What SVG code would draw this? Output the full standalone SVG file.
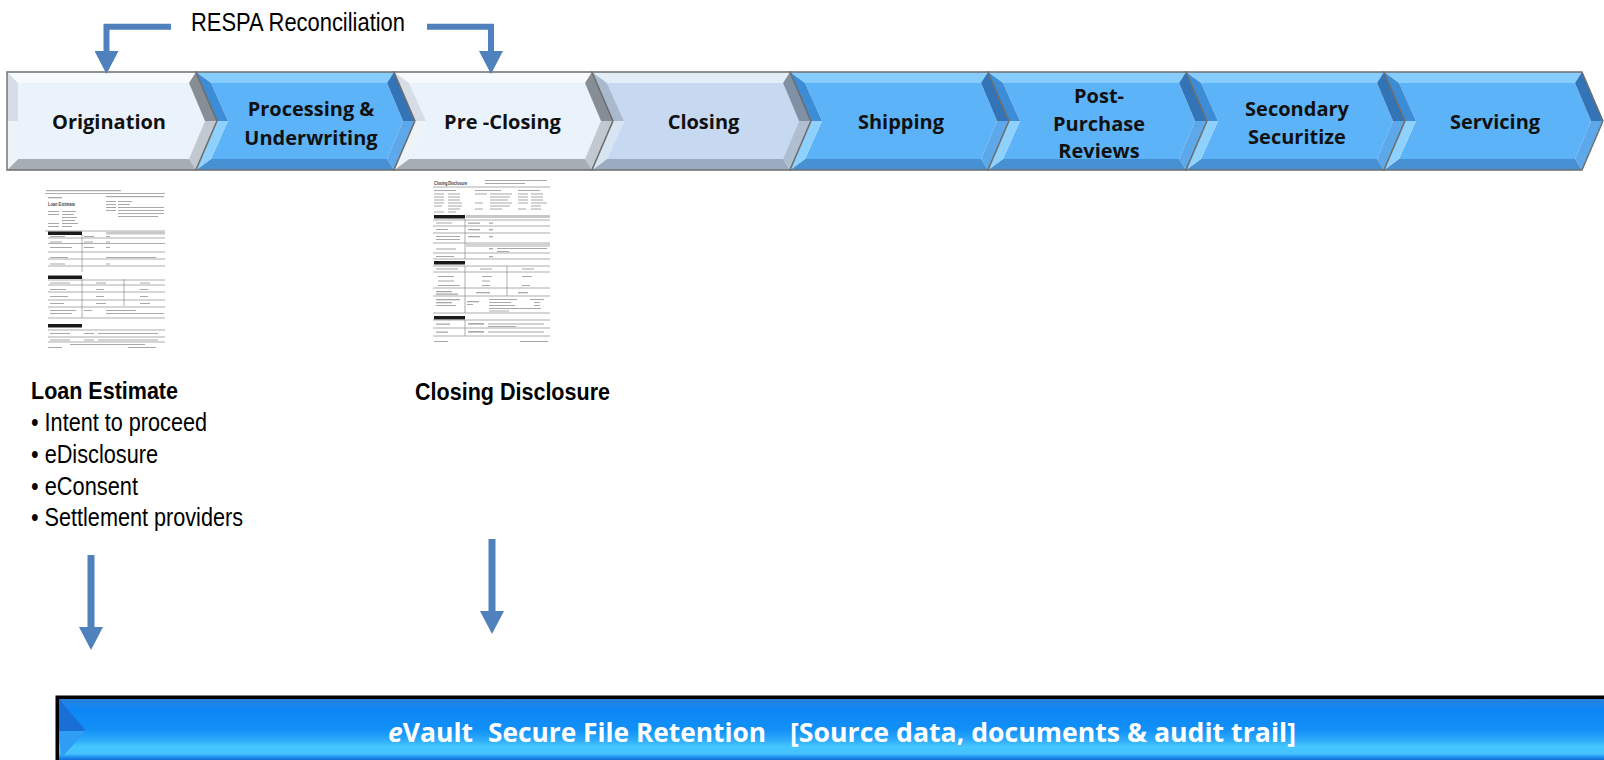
<svg xmlns="http://www.w3.org/2000/svg" width="1604" height="760" viewBox="0 0 1604 760">
<style>
.o{fill:none;stroke:#6e6e6e;stroke-width:1.4;stroke-linejoin:miter}
.lt .f{fill:#eaf3fc}.lt .t{fill:#f7fafd}.lt .lu{fill:#d6dde6}.lt .ll{fill:#eef3f8}.lt .ru{fill:#878d95}.lt .rl{fill:#c2c8cf}.lt .b{fill:#a6adb5}
.pl .f{fill:#c6d9f0}.pl .t{fill:#e3edf8}.pl .lu{fill:#a9bace}.pl .ll{fill:#d7e4f2}.pl .ru{fill:#8191a5}.pl .rl{fill:#afbed0}.pl .b{fill:#9bacc0}
.bl .f{fill:#5db3f8}.bl .t{fill:#86ccfd}.bl .lu{fill:#3d8dd6}.bl .ll{fill:#8fd1fd}.bl .ru{fill:#3374b6}.bl .rl{fill:#5ca8ea}.bl .b{fill:#4790d3}
.lbl{font-family:"Open Sans","Liberation Sans",sans-serif;font-weight:700;font-size:20px;fill:#111;text-anchor:middle}
.nar{font-family:"Liberation Sans Narrow","Liberation Sans",sans-serif;fill:#000}
.conn{fill:none;stroke:#4f81bd;stroke-width:6;stroke-linejoin:miter;marker-end:url(#ah)}
.bar{font-family:"Open Sans","Liberation Sans",sans-serif;font-weight:700;font-size:27px;fill:#fff}
.ru2{stroke:#8a8a8a;stroke-width:0.7}
.tx{fill:#a8a8a8}
.hb{fill:#1a1a1a}
</style>
<defs>
<marker id="ah" markerUnits="userSpaceOnUse" markerWidth="23" markerHeight="24" viewBox="0 0 23 24" refX="0" refY="12" orient="auto">
<path d="M0,0 L23,12 L0,24 Z" fill="#4f81bd"/>
</marker>
<linearGradient id="barg" x1="0" y1="699" x2="0" y2="760" gradientUnits="userSpaceOnUse">
<stop offset="0" stop-color="#2b7fd6"/>
<stop offset="0.1" stop-color="#1b85ec"/>
<stop offset="0.17" stop-color="#0d86f6"/>
<stop offset="0.5" stop-color="#1190f7"/>
<stop offset="0.68" stop-color="#2eacfb"/>
<stop offset="0.78" stop-color="#46c6ff"/>
<stop offset="0.9" stop-color="#45c2ff"/>
<stop offset="0.95" stop-color="#1e8ff0"/>
<stop offset="1" stop-color="#126fd6"/>
</linearGradient>
</defs>
<rect x="0" y="0" width="1604" height="760" fill="#fff"/>

<!-- Stage chevrons -->
<g id="node-origination" class="lt">
<polygon class="f" points="18,83 189,83 205,121 189,159 18,159"/>
<polygon class="t" points="7,72 196,72 189,83 18,83"/>
<polygon class="ru" points="196,72 217,121 205,121 189,83"/>
<polygon class="rl" points="217,121 196,170 189,159 205,121"/>
<polygon class="b" points="7,170 196,170 189,159 18,159"/>
<polygon class="lu" points="7,72 18,83 18,121 7,121"/>
<polygon class="ll" points="7,121 18,121 18,159 7,170"/>
<polygon class="o" points="7,72 196,72 217,121 196,170 7,170"/>
<text class="lbl" x="109" y="129">Origination</text>
</g>

<g id="node-processing" class="bl" transform="translate(196,0)">
<polygon class="f" points="15,83 191,83 207,121 191,159 15,159 32,121"/>
<polygon class="t" points="0,72 198,72 191,83 15,83"/>
<polygon class="ru" points="198,72 219,121 207,121 191,83"/>
<polygon class="rl" points="219,121 198,170 191,159 207,121"/>
<polygon class="b" points="0,170 198,170 191,159 15,159"/>
<polygon class="lu" points="0,72 15,83 32,121 21,121"/>
<polygon class="ll" points="21,121 32,121 15,159 0,170"/>
<polygon class="o" points="0,72 198,72 219,121 198,170 0,170 21,121"/>
<text class="lbl" x="115" y="115.5">Processing &amp;</text>
<text class="lbl" x="115" y="144.5">Underwriting</text>
</g>

<g id="node-pre-closing" class="lt" transform="translate(394,0)">
<polygon class="f" points="15,83 191,83 207,121 191,159 15,159 32,121"/>
<polygon class="t" points="0,72 198,72 191,83 15,83"/>
<polygon class="ru" points="198,72 219,121 207,121 191,83"/>
<polygon class="rl" points="219,121 198,170 191,159 207,121"/>
<polygon class="b" points="0,170 198,170 191,159 15,159"/>
<polygon class="lu" points="0,72 15,83 32,121 21,121"/>
<polygon class="ll" points="21,121 32,121 15,159 0,170"/>
<polygon class="o" points="0,72 198,72 219,121 198,170 0,170 21,121"/>
<text class="lbl" x="108.5" y="129">Pre -Closing</text>
</g>

<g id="node-closing" class="pl" transform="translate(592,0)">
<polygon class="f" points="15,83 191,83 207,121 191,159 15,159 32,121"/>
<polygon class="t" points="0,72 198,72 191,83 15,83"/>
<polygon class="ru" points="198,72 219,121 207,121 191,83"/>
<polygon class="rl" points="219,121 198,170 191,159 207,121"/>
<polygon class="b" points="0,170 198,170 191,159 15,159"/>
<polygon class="lu" points="0,72 15,83 32,121 21,121"/>
<polygon class="ll" points="21,121 32,121 15,159 0,170"/>
<polygon class="o" points="0,72 198,72 219,121 198,170 0,170 21,121"/>
<text class="lbl" x="111.5" y="129">Closing</text>
</g>

<g id="node-shipping" class="bl" transform="translate(790,0)">
<polygon class="f" points="15,83 191,83 207,121 191,159 15,159 32,121"/>
<polygon class="t" points="0,72 198,72 191,83 15,83"/>
<polygon class="ru" points="198,72 219,121 207,121 191,83"/>
<polygon class="rl" points="219,121 198,170 191,159 207,121"/>
<polygon class="b" points="0,170 198,170 191,159 15,159"/>
<polygon class="lu" points="0,72 15,83 32,121 21,121"/>
<polygon class="ll" points="21,121 32,121 15,159 0,170"/>
<polygon class="o" points="0,72 198,72 219,121 198,170 0,170 21,121"/>
<text class="lbl" x="111" y="129">Shipping</text>
</g>

<g id="node-post-purchase" class="bl" transform="translate(988,0)">
<polygon class="f" points="15,83 191,83 207,121 191,159 15,159 32,121"/>
<polygon class="t" points="0,72 198,72 191,83 15,83"/>
<polygon class="ru" points="198,72 219,121 207,121 191,83"/>
<polygon class="rl" points="219,121 198,170 191,159 207,121"/>
<polygon class="b" points="0,170 198,170 191,159 15,159"/>
<polygon class="lu" points="0,72 15,83 32,121 21,121"/>
<polygon class="ll" points="21,121 32,121 15,159 0,170"/>
<polygon class="o" points="0,72 198,72 219,121 198,170 0,170 21,121"/>
<text class="lbl" x="111" y="103">Post-</text>
<text class="lbl" x="111" y="130.5">Purchase</text>
<text class="lbl" x="111" y="158">Reviews</text>
</g>

<g id="node-secondary" class="bl" transform="translate(1186,0)">
<polygon class="f" points="15,83 191,83 207,121 191,159 15,159 32,121"/>
<polygon class="t" points="0,72 198,72 191,83 15,83"/>
<polygon class="ru" points="198,72 219,121 207,121 191,83"/>
<polygon class="rl" points="219,121 198,170 191,159 207,121"/>
<polygon class="b" points="0,170 198,170 191,159 15,159"/>
<polygon class="lu" points="0,72 15,83 32,121 21,121"/>
<polygon class="ll" points="21,121 32,121 15,159 0,170"/>
<polygon class="o" points="0,72 198,72 219,121 198,170 0,170 21,121"/>
<text class="lbl" x="111" y="115.5">Secondary</text>
<text class="lbl" x="111" y="144">Securitize</text>
</g>

<g id="node-servicing" class="bl" transform="translate(1384,0)">
<polygon class="f" points="15,83 191,83 207,121 191,159 15,159 32,121"/>
<polygon class="t" points="0,72 198,72 191,83 15,83"/>
<polygon class="ru" points="198,72 219,121 207,121 191,83"/>
<polygon class="rl" points="219,121 198,170 191,159 207,121"/>
<polygon class="b" points="0,170 198,170 191,159 15,159"/>
<polygon class="lu" points="0,72 15,83 32,121 21,121"/>
<polygon class="ll" points="21,121 32,121 15,159 0,170"/>
<polygon class="o" points="0,72 198,72 219,121 198,170 0,170 21,121"/>
<text class="lbl" x="111" y="129">Servicing</text>
</g>

<!-- RESPA label -->
<g id="label-respa">
<text class="nar" x="191" y="30.7" font-size="26" textLength="214" lengthAdjust="spacingAndGlyphs">RESPA Reconciliation</text>
</g>

<!-- Loan Estimate document -->
<g id="doc-loan-estimate">
<rect class="tx" x="46" y="190" width="75" height="1.2"/>
<line class="ru2" x1="45" y1="193.5" x2="165" y2="193.5"/>
<rect class="tx" x="48" y="197" width="14" height="1.3"/>
<text x="48" y="206" font-family="Liberation Sans, sans-serif" font-weight="700" font-size="5.5" fill="#444" textLength="27" lengthAdjust="spacingAndGlyphs">Loan Estimate</text>
<rect class="tx" x="106" y="196" width="58" height="1.2"/>
<rect class="tx" x="48" y="211" width="11" height="1"/><rect class="tx" x="62" y="211" width="14" height="1"/>
<rect class="tx" x="48" y="214" width="11" height="1"/><rect class="tx" x="62" y="214" width="12" height="1"/>
<rect class="tx" x="62" y="217" width="15" height="1"/><rect class="tx" x="62" y="220" width="13" height="1"/>
<rect class="tx" x="48" y="223" width="11" height="1"/><rect class="tx" x="62" y="223" width="16" height="1"/>
<rect class="tx" x="48" y="226" width="11" height="1"/><rect class="tx" x="62" y="226" width="10" height="1"/>
<rect class="tx" x="106" y="201" width="10" height="1"/><rect class="tx" x="118" y="201" width="14" height="1"/>
<rect class="tx" x="106" y="204" width="10" height="1"/><rect class="tx" x="118" y="204" width="12" height="1"/>
<rect class="tx" x="106" y="207" width="10" height="1"/><rect class="tx" x="118" y="207" width="46" height="1"/>
<rect class="tx" x="106" y="210" width="10" height="1"/><rect class="tx" x="118" y="210" width="46" height="1"/>
<rect class="tx" x="118" y="213" width="46" height="1"/><rect class="tx" x="118" y="216" width="40" height="1"/>
<line class="ru2" x1="45" y1="231" x2="165" y2="231"/>
<rect class="hb" x="48" y="231.5" width="34" height="3.5"/>
<rect x="106" y="231.5" width="59" height="3" fill="#c8c8c8"/>
<line class="ru2" x1="48" y1="238" x2="165" y2="238"/>
<line class="ru2" x1="48" y1="243.5" x2="165" y2="243.5"/>
<line class="ru2" x1="48" y1="252" x2="165" y2="252"/>
<line class="ru2" x1="48" y1="259" x2="165" y2="259"/>
<line class="ru2" x1="48" y1="266" x2="165" y2="266"/>
<line class="ru2" x1="82" y1="235" x2="82" y2="272"/>
<rect class="tx" x="50" y="236" width="15" height="1"/><rect class="tx" x="84" y="236" width="10" height="1"/><rect class="tx" x="106" y="236" width="4" height="1"/>
<rect class="tx" x="50" y="241.5" width="12" height="1"/><rect class="tx" x="84" y="241.5" width="9" height="1"/><rect class="tx" x="106" y="241.5" width="4" height="1"/>
<rect class="tx" x="50" y="247" width="22" height="1"/><rect class="tx" x="84" y="247" width="10" height="1"/><rect class="tx" x="106" y="247" width="4" height="1"/>
<rect class="tx" x="50" y="257" width="18" height="1"/><rect class="tx" x="106" y="257" width="50" height="1"/>
<rect class="tx" x="50" y="263.5" width="15" height="1"/><rect class="tx" x="106" y="263.5" width="4" height="1"/>
<rect class="hb" x="48" y="275.5" width="34" height="3.5"/>
<line class="ru2" x1="48" y1="280" x2="165" y2="280"/>
<line class="ru2" x1="48" y1="285" x2="165" y2="285"/>
<line class="ru2" x1="48" y1="292" x2="165" y2="292"/>
<line class="ru2" x1="48" y1="300" x2="165" y2="300"/>
<line class="ru2" x1="48" y1="307" x2="165" y2="307"/>
<line class="ru2" x1="48" y1="318" x2="165" y2="318"/>
<line class="ru2" x1="82" y1="279" x2="82" y2="318"/>
<line class="ru2" x1="124" y1="279" x2="124" y2="306"/>
<rect class="tx" x="50" y="282.5" width="20" height="1"/><rect class="tx" x="96" y="282.5" width="10" height="1"/><rect class="tx" x="140" y="282.5" width="10" height="1"/>
<rect class="tx" x="50" y="289" width="16" height="1"/><rect class="tx" x="96" y="289" width="8" height="1"/><rect class="tx" x="140" y="289" width="8" height="1"/>
<rect class="tx" x="50" y="296" width="18" height="1"/><rect class="tx" x="96" y="296" width="8" height="1"/><rect class="tx" x="140" y="296" width="8" height="1"/>
<rect class="tx" x="50" y="303" width="14" height="1"/><rect class="tx" x="96" y="303" width="10" height="1"/><rect class="tx" x="140" y="303" width="10" height="1"/>
<rect class="tx" x="50" y="310" width="26" height="1"/><rect class="tx" x="84" y="310" width="8" height="1"/><rect class="tx" x="106" y="310" width="30" height="1"/>
<rect class="tx" x="50" y="313" width="22" height="1"/><rect class="tx" x="106" y="313" width="58" height="1"/>
<rect class="hb" x="48" y="324" width="34" height="3.5"/>
<line class="ru2" x1="48" y1="330" x2="165" y2="330"/>
<line class="ru2" x1="48" y1="337" x2="165" y2="337"/>
<line class="ru2" x1="48" y1="342" x2="165" y2="342"/>
<rect class="tx" x="50" y="333" width="20" height="1"/><rect class="tx" x="84" y="333" width="10" height="1"/><rect class="tx" x="98" y="333" width="60" height="1"/>
<rect class="tx" x="50" y="339.5" width="20" height="1"/><rect class="tx" x="84" y="339.5" width="10" height="1"/><rect class="tx" x="98" y="339.5" width="60" height="1"/>
<rect class="tx" x="70" y="344" width="75" height="1"/>
<rect class="tx" x="48" y="347" width="14" height="1"/><rect class="tx" x="128" y="347" width="28" height="1"/>
</g>

<!-- Closing Disclosure document -->
<g id="doc-closing-disclosure">
<text x="434" y="184.5" font-family="Liberation Sans, sans-serif" font-weight="700" font-size="5.5" fill="#333" textLength="33" lengthAdjust="spacingAndGlyphs">Closing Disclosure</text>
<rect class="tx" x="485" y="180" width="62" height="1"/><rect class="tx" x="485" y="183" width="40" height="1"/>
<line class="ru2" x1="433" y1="187" x2="550" y2="187"/>
<rect class="tx" x="434" y="190" width="22" height="1"/><rect class="tx" x="475" y="190" width="26" height="1"/><rect class="tx" x="518" y="190" width="22" height="1"/>
<rect class="tx" x="434" y="193.5" width="10" height="1"/><rect class="tx" x="448" y="193.5" width="12" height="1"/><rect class="tx" x="475" y="193.5" width="12" height="1"/><rect class="tx" x="490" y="193.5" width="22" height="1"/><rect class="tx" x="518" y="193.5" width="10" height="1"/><rect class="tx" x="531" y="193.5" width="12" height="1"/>
<rect class="tx" x="434" y="196.5" width="10" height="1"/><rect class="tx" x="448" y="196.5" width="12" height="1"/><rect class="tx" x="490" y="196.5" width="20" height="1"/><rect class="tx" x="518" y="196.5" width="10" height="1"/><rect class="tx" x="531" y="196.5" width="12" height="1"/>
<rect class="tx" x="434" y="199.5" width="10" height="1"/><rect class="tx" x="448" y="199.5" width="12" height="1"/><rect class="tx" x="490" y="199.5" width="18" height="1"/><rect class="tx" x="518" y="199.5" width="10" height="1"/><rect class="tx" x="531" y="199.5" width="12" height="1"/>
<rect class="tx" x="434" y="202.5" width="10" height="1"/><rect class="tx" x="448" y="202.5" width="14" height="1"/><rect class="tx" x="475" y="202.5" width="8" height="1"/><rect class="tx" x="490" y="202.5" width="22" height="1"/><rect class="tx" x="518" y="202.5" width="10" height="1"/><rect class="tx" x="531" y="202.5" width="16" height="1"/>
<rect class="tx" x="434" y="205.5" width="8" height="1"/><rect class="tx" x="448" y="205.5" width="14" height="1"/><rect class="tx" x="490" y="205.5" width="20" height="1"/><rect class="tx" x="531" y="205.5" width="10" height="1"/>
<rect class="tx" x="448" y="208.5" width="12" height="1"/><rect class="tx" x="475" y="208.5" width="8" height="1"/><rect class="tx" x="490" y="208.5" width="12" height="1"/><rect class="tx" x="518" y="208.5" width="8" height="1"/><rect class="tx" x="531" y="208.5" width="10" height="1"/>
<rect class="tx" x="434" y="211.5" width="10" height="1"/><rect class="tx" x="448" y="211.5" width="8" height="1"/>
<rect class="hb" x="434" y="215" width="31" height="3.5"/>
<rect x="466" y="215" width="84" height="3" fill="#c8c8c8"/>
<line class="ru2" x1="433" y1="220" x2="550" y2="220"/>
<line class="ru2" x1="433" y1="226" x2="550" y2="226"/>
<line class="ru2" x1="433" y1="233" x2="550" y2="233"/>
<line class="ru2" x1="433" y1="243" x2="550" y2="243"/>
<line class="ru2" x1="466" y1="246" x2="550" y2="246"/>
<line class="ru2" x1="433" y1="253" x2="550" y2="253"/>
<line class="ru2" x1="433" y1="259" x2="550" y2="259"/>
<line class="ru2" x1="465" y1="219" x2="465" y2="259"/>
<rect class="tx" x="436" y="222.5" width="16" height="1"/><rect class="tx" x="468" y="222.5" width="12" height="1.3"/><rect class="tx" x="489" y="222.5" width="4" height="1.3"/>
<rect class="tx" x="436" y="229" width="12" height="1"/><rect class="tx" x="468" y="229" width="12" height="1.3"/><rect class="tx" x="489" y="229" width="4" height="1.3"/>
<rect class="tx" x="436" y="236" width="24" height="1"/><rect class="tx" x="436" y="239" width="24" height="1"/><rect class="tx" x="468" y="236" width="12" height="1.3"/><rect class="tx" x="489" y="236" width="4" height="1.3"/>
<rect x="466" y="243.5" width="84" height="2" fill="#d0d0d0"/>
<rect class="tx" x="436" y="248.5" width="20" height="1"/><rect class="tx" x="489" y="248" width="4" height="1.3"/><rect class="tx" x="497" y="248" width="50" height="1"/><rect class="tx" x="497" y="251" width="12" height="1"/>
<rect class="tx" x="436" y="256" width="18" height="1"/><rect class="tx" x="489" y="256" width="4" height="1.3"/>
<rect class="hb" x="434" y="261" width="31" height="3.5"/>
<line class="ru2" x1="433" y1="266" x2="550" y2="266"/>
<line class="ru2" x1="433" y1="272" x2="550" y2="272"/>
<line class="ru2" x1="433" y1="288" x2="550" y2="288"/>
<line class="ru2" x1="433" y1="296" x2="550" y2="296"/>
<line class="ru2" x1="433" y1="313" x2="550" y2="313"/>
<line class="ru2" x1="465" y1="266" x2="465" y2="313"/>
<line class="ru2" x1="507" y1="266" x2="507" y2="296"/>
<rect class="tx" x="436" y="268.5" width="22" height="1"/><rect class="tx" x="480" y="268.5" width="12" height="1"/><rect class="tx" x="522" y="268.5" width="12" height="1"/>
<rect class="tx" x="438" y="276" width="16" height="1"/><rect class="tx" x="482" y="276" width="10" height="1"/><rect class="tx" x="522" y="276" width="10" height="1"/>
<rect class="tx" x="438" y="280.5" width="16" height="1"/><rect class="tx" x="482" y="280.5" width="8" height="1"/>
<rect class="tx" x="438" y="285" width="22" height="1"/><rect class="tx" x="482" y="285" width="8" height="1"/><rect class="tx" x="522" y="285" width="8" height="1"/>
<rect class="tx" x="436" y="291" width="16" height="1.3"/><rect class="tx" x="436" y="293.5" width="22" height="1.3"/><rect class="tx" x="476" y="292" width="14" height="1.3"/><rect class="tx" x="518" y="292" width="10" height="1.3"/>
<rect class="tx" x="436" y="299" width="24" height="1.3"/><rect class="tx" x="436" y="302" width="16" height="1.3"/><rect class="tx" x="436" y="305" width="20" height="1"/><rect class="tx" x="467" y="301" width="12" height="1.3"/><rect class="tx" x="467" y="304" width="6" height="1"/>
<rect class="tx" x="489" y="299" width="28" height="1"/><rect class="tx" x="489" y="302" width="22" height="1"/><rect class="tx" x="489" y="305" width="26" height="1"/><rect class="tx" x="489" y="308" width="52" height="1"/><rect class="tx" x="489" y="310.5" width="20" height="1"/>
<rect class="tx" x="530" y="299" width="14" height="1"/><rect class="tx" x="534" y="302" width="6" height="1"/><rect class="tx" x="534" y="305" width="6" height="1"/>
<rect class="hb" x="434" y="316" width="31" height="3.5"/>
<line class="ru2" x1="433" y1="320" x2="550" y2="320"/>
<line class="ru2" x1="433" y1="328" x2="550" y2="328"/>
<line class="ru2" x1="433" y1="336" x2="550" y2="336"/>
<line class="ru2" x1="465" y1="320" x2="465" y2="336"/>
<rect class="tx" x="436" y="323.5" width="14" height="1.3"/><rect class="tx" x="468" y="323" width="16" height="1.6"/><rect class="tx" x="488" y="323.5" width="56" height="1"/><rect class="tx" x="488" y="326" width="28" height="1"/>
<rect class="tx" x="436" y="331.5" width="12" height="1.3"/><rect class="tx" x="468" y="331" width="16" height="1.6"/><rect class="tx" x="488" y="331.5" width="56" height="1"/>
<rect class="tx" x="434" y="341" width="14" height="1"/><rect class="tx" x="520" y="341" width="28" height="1"/>
</g>

<!-- Document labels -->
<g id="label-loan-estimate">
<text class="nar" x="31" y="398.5" font-size="23" font-weight="700" textLength="147" lengthAdjust="spacingAndGlyphs">Loan Estimate</text>
<text class="nar" x="31" y="431" font-size="26" textLength="176" lengthAdjust="spacingAndGlyphs">• Intent to proceed</text>
<text class="nar" x="31" y="462.5" font-size="26" textLength="127" lengthAdjust="spacingAndGlyphs">• eDisclosure</text>
<text class="nar" x="31" y="494.5" font-size="26" textLength="107" lengthAdjust="spacingAndGlyphs">• eConsent</text>
<text class="nar" x="31" y="526" font-size="26" textLength="212" lengthAdjust="spacingAndGlyphs">• Settlement providers</text>
</g>
<g id="label-closing-disclosure">
<text class="nar" x="415" y="400" font-size="23" font-weight="700" textLength="195" lengthAdjust="spacingAndGlyphs">Closing Disclosure</text>
</g>

<!-- eVault bar -->
<g id="node-evault">
<rect x="55.5" y="695.5" width="1560" height="70" fill="#000"/>
<rect x="59" y="699" width="1550" height="62" fill="url(#barg)"/>
<polygon points="59,699 86,731 59,731" fill="#1a6fd6"/>
<polygon points="59,731 86,731 61,758" fill="#2f9df4"/>
<text class="bar" x="388" y="741.5" textLength="85" lengthAdjust="spacingAndGlyphs"><tspan font-style="italic">e</tspan>Vault</text>
<text class="bar" x="488" y="741.5" textLength="278" lengthAdjust="spacingAndGlyphs">Secure File Retention</text>
<text class="bar" x="790" y="741.5" textLength="506" lengthAdjust="spacingAndGlyphs">[Source data, documents &amp; audit trail]</text>
</g>

<!-- Connectors -->
<g id="connectors">
<path class="conn" d="M171,26.7 H106.5 V51"/>
<path class="conn" d="M427,26.7 H491 V51"/>
<path class="conn" style="stroke-width:7" d="M91,555 V627"/>
<path class="conn" style="stroke-width:7" d="M492,539 V611"/>
</g>
</svg>
